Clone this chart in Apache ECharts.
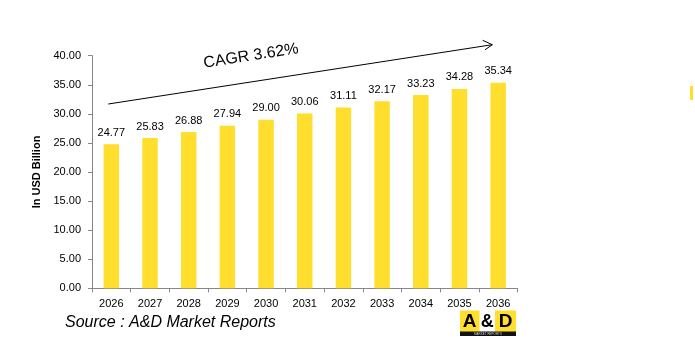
<!DOCTYPE html>
<html><head><meta charset="utf-8">
<script src="https://cdn.jsdelivr.net/npm/echarts@6/dist/echarts.min.js"></script>
<style>html,body{margin:0;padding:0;background:#fff}#c{width:695px;height:361px}</style>
</head><body><div id="c"></div>
<script>
const years = ['2026','2027','2028','2029','2030','2031','2032','2033','2034','2035','2036'];
const values = [24.77,25.83,26.88,27.94,29.00,30.06,31.11,32.17,33.23,34.28,35.34];
const yTicks = {min:0, max:40, interval:5};
const cagrText = 'CAGR 3.62%';
const sourceText = 'Source : A&D Market Reports';
const axisName = 'In USD Billion';

const chart = echarts.init(document.getElementById('c'), null, {renderer:'canvas'});
const font = '"Liberation Sans", Arial, sans-serif';
chart.setOption({
  animation:false,
  grid:{left:92, right:177.5, top:55.7, bottom:72.7},
  xAxis:{type:'category', data:years,
    axisLine:{lineStyle:{color:'#868686'}},
    axisTick:{show:true, length:4, lineStyle:{color:'#868686'}},
    axisLabel:{color:'#000', fontSize:11, fontFamily:font, margin:10}},
  yAxis:{type:'value', min:yTicks.min, max:yTicks.max, interval:yTicks.interval,
    name:axisName, nameLocation:'middle', nameGap:43, nameRotate:90,
    nameTextStyle:{fontWeight:'bold', fontSize:11, color:'#000', fontFamily:font},
    axisLine:{show:true, lineStyle:{color:'#868686'}},
    axisTick:{show:true, length:4, lineStyle:{color:'#868686'}},
    splitLine:{show:false},
    axisLabel:{color:'#000', fontSize:11, fontFamily:font, margin:11,
      formatter:v=>v.toFixed(2)}},
  series:[{type:'bar', data:values, barWidth:'40%',
    itemStyle:{color:'#FFDE2E'},
    label:{show:true, position:'top', distance:6, color:'#000', fontSize:11, fontFamily:font,
      formatter:p=>p.value.toFixed(2)}}],
  graphic:[
    {type:'line', shape:{x1:108.3,y1:104,x2:492.3,y2:44.7}, style:{stroke:'#000', lineWidth:1}},
    {type:'polyline', shape:{points:[[482.7,40.3],[492.3,44.7],[485,49.8]]}, style:{stroke:'#000', lineWidth:1, fill:null}},
    {type:'text', x:251, y:56, rotation:0.153, style:{text:cagrText, font:'16px '+font, fill:'#000', textAlign:'center', textVerticalAlign:'middle'}},
    {type:'text', x:65, y:323, style:{text:sourceText, font:'italic 16px '+font, fill:'#000', textVerticalAlign:'middle'}},
    {type:'rect', shape:{x:460,y:310.5,width:19.5,height:21.5}, style:{fill:'#FFDE2E'}},
    {type:'rect', shape:{x:495,y:310.5,width:21,height:21.5}, style:{fill:'#FFDE2E'}},
    {type:'rect', shape:{x:460,y:331.5,width:56,height:4.5}, style:{fill:'#111'}},
    {type:'text', x:469.5, y:322, style:{text:'A', font:'bold 19px '+font, fill:'#000', textAlign:'center', textVerticalAlign:'middle'}},
    {type:'text', x:487.3, y:322, style:{text:'&', font:'bold 18px '+font, fill:'#000', textAlign:'center', textVerticalAlign:'middle'}},
    {type:'text', x:505.5, y:322, style:{text:'D', font:'bold 19px '+font, fill:'#000', textAlign:'center', textVerticalAlign:'middle'}},
    {type:'text', x:488, y:334, style:{text:'MARKET REPORTS', font:'3px '+font, fill:'#ccc', textAlign:'center', textVerticalAlign:'middle'}},
    {type:'rect', shape:{x:690,y:86,width:3,height:14}, style:{fill:'#FFDE2E'}}
  ]
});
</script></body></html>
